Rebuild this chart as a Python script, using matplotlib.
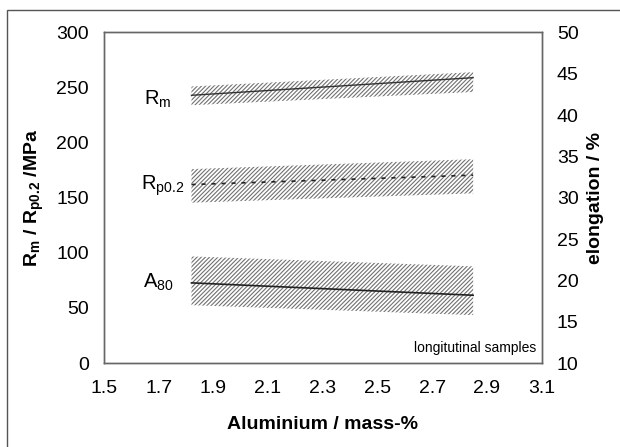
import matplotlib
matplotlib.use("Agg")
import matplotlib.pyplot as plt
from matplotlib.patches import Rectangle

plt.rcParams['font.family'] = ['Liberation Sans', 'DejaVu Sans']
plt.rcParams['mathtext.fontset'] = 'custom'
plt.rcParams['mathtext.rm'] = 'Liberation Sans'
plt.rcParams['mathtext.it'] = 'Liberation Sans'
plt.rcParams['mathtext.bf'] = 'Liberation Sans:bold'
plt.rcParams['hatch.linewidth'] = 0.8

# aluminium content range (mass-%)
al = [1.82, 2.85]

# Rm (MPa): mean line and scatter band
rm_mean = [243, 259]
rm_low = [234, 246]
rm_high = [251, 264]

# Rp0.2 (MPa)
rp_mean = [162, 170.5]
rp_low = [145.5, 154]
rp_high = [176, 185]

# A80 elongation (%)
a_mean = [19.7, 18.2]
a_low = [17.0, 15.8]
a_high = [22.9, 21.7]

x_ticks = [1.5, 1.7, 1.9, 2.1, 2.3, 2.5, 2.7, 2.9, 3.1]

fig = plt.figure(figsize=(6.2, 4.47), dpi=100)
ax = fig.add_axes([0.1677, 0.1879, 0.7057, 0.7394])
ax2 = ax.twinx()

hatch_col = '#707070'
ax.fill_between(al, rm_low, rm_high, facecolor='white', edgecolor=hatch_col,
                hatch='////////', linewidth=0)
ax.plot(al, rm_mean, color='#333333', lw=1)

ax.fill_between(al, rp_low, rp_high, facecolor='white', edgecolor=hatch_col,
                hatch='////////', linewidth=0)
ax.plot(al, rp_mean, color='#222222', lw=1.2, ls=(0, (2.5, 3.5)))

ax2.fill_between(al, a_low, a_high, facecolor='white', edgecolor=hatch_col,
                 hatch='////////', linewidth=0)
ax2.plot(al, a_mean, color='#222222', lw=1.2)

ax.set_xlim(1.5, 3.1)
ax.set_ylim(0, 300)
ax2.set_ylim(10, 50)
ax.set_xticks(x_ticks)
ax.set_xticklabels([f"{t:.1f}" for t in x_ticks])
ax.set_yticks(range(0, 301, 50))
ax2.set_yticks(range(10, 51, 5))

for a in (ax, ax2):
    a.tick_params(length=0, labelsize=14, pad=11)
    for s in a.spines.values():
        s.set_color('#666666')
        s.set_linewidth(1)
ax.tick_params(axis='x', pad=12)

ax.set_xlabel('Aluminium / mass-%', fontsize=14, fontweight='bold', labelpad=14)
ax.set_ylabel(r'$\mathbf{R_m}$ / $\mathbf{R_{p0.2}}$ /MPa', fontsize=14,
              fontweight='bold', labelpad=7)
ax2.set_ylabel('elongation / %', fontsize=14, fontweight='bold', labelpad=6)

ax.text(1.695, 239, r'R$_\mathrm{m}$', fontsize=14.5, ha='center', va='center')
ax.text(1.716, 161, r'R$_\mathrm{p0.2}$', fontsize=14.5, ha='center', va='center')
ax.text(1.70, 73, r'A$_\mathrm{80}$', fontsize=14.5, ha='center', va='center')
ax.text(3.08, 13.5, 'longitutinal samples', fontsize=10, ha='right', va='center')

# outer frame of the figure
fig.patches.append(Rectangle((7 / 620, -0.1), 1.2, 1.1 - 10 / 447,
                             transform=fig.transFigure, fill=False,
                             edgecolor='#555555', lw=1))

fig.savefig('out.png', dpi=100)
